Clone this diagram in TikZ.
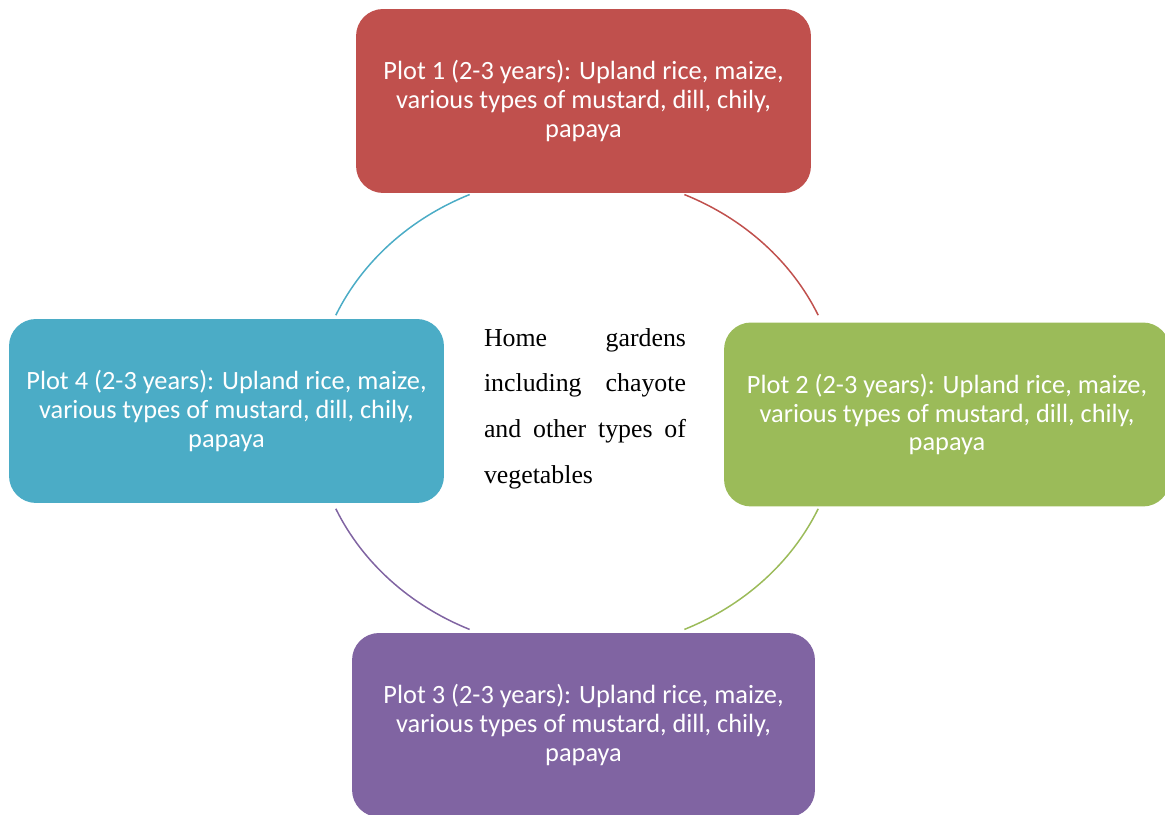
\documentclass[tikz,border=0pt]{standalone}
\usepackage{fontspec}
\setmainfont{Liberation Serif}
\newfontfamily\plotfont{Carlito}
\usetikzlibrary{calc}
\definecolor{plotred}{HTML}{C0504D}
\definecolor{plotgreen}{HTML}{9BBB59}
\definecolor{plotpurple}{HTML}{8064A2}
\definecolor{plotblue}{HTML}{4BACC6}
\tikzset{%
  plotbox/.style={rectangle, rounded corners=0.54cm, inner sep=0pt, minimum height=3.68cm, text=white, align=center, font=\plotfont\fontsize{15}{16.5}\selectfont},
  cycleedge/.style={line width=0.85pt}
}

\begin{document}
\begin{tikzpicture}[x=0.02cm, y=0.02cm]
\useasboundingbox (0,0) rectangle (1165,814);

% plots
\node [plotbox, fill=plotred, minimum width=9.1cm] (P1) at (583.5,713) {Plot 1 (2-3 years): Upland rice, maize,\\various types of mustard, dill, chily,\\papaya};
\node [plotbox, fill=plotgreen, minimum width=8.92cm] (P2) at (947,399.5) {Plot 2 (2-3 years): Upland rice, maize,\\various types of mustard, dill, chily,\\papaya};
\node [plotbox, fill=plotpurple, minimum width=9.26cm] (P3) at (583.5,89) {Plot 3 (2-3 years): Upland rice, maize,\\various types of mustard, dill, chily,\\papaya};
\node [plotbox, fill=plotblue, minimum width=8.7cm] (P4) at (226.5,403) {Plot 4 (2-3 years): Upland rice, maize,\\various types of mustard, dill, chily,\\papaya};

% home gardens
\node [text width=4.04cm, align=justify, inner sep=0pt, font=\fontsize{14.7}{26}\selectfont] (G) at (585,405.5) {\hyphenpenalty=10000 Home gardens\linebreak including chayote\linebreak and other types of\linebreak vegetables};

% cycle arcs
\coordinate (O) at (577,402);
\foreach \a / \col in {24/plotred, 114/plotblue, 204/plotpurple, 294/plotgreen}{
  \draw [cycleedge, \col] (O) ++(\a:264 and 238) arc [start angle=\a, delta angle=42, x radius=264, y radius=238];
}

\end{tikzpicture}
\end{document}
